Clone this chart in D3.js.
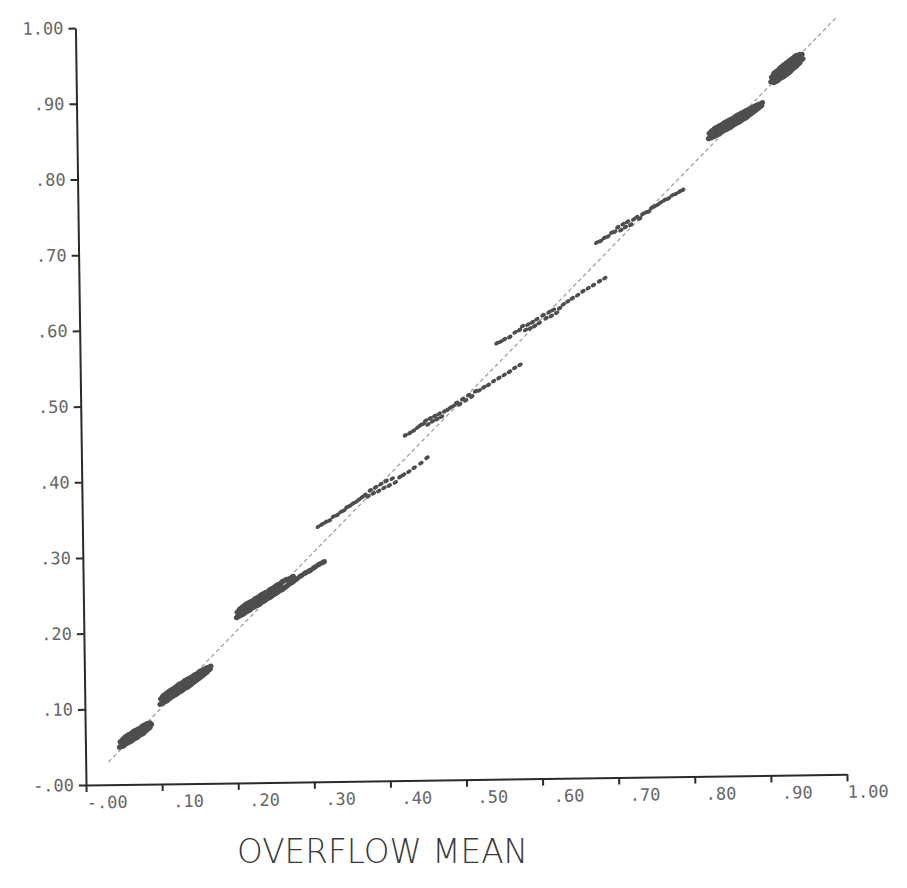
<!DOCTYPE html>
<html>
<head>
<meta charset="utf-8">
<script src="https://cdn.jsdelivr.net/npm/d3@7"></script>
<style>
    html, body { margin: 0; padding: 0; background: #fff; }
    svg { display: block; }
</style>
</head>
<body>
<div id="chart"></div>
<script>
"use strict";

// ------------------------- Data -------------------------

const tickValues = [0, 0.1, 0.2, 0.3, 0.4, 0.5, 0.6, 0.7, 0.8, 0.9, 1.0];
const tickLabels = ['-.00', '.10', '.20', '.30', '.40', '.50', '.60', '.70', '.80', '.90', '1.00'];
const xTitle = 'OVERFLOW MEAN';

const diagonal = [[0.03, 0.03], [1.0, 1.0]];

const clusterA = [[.046,.050],[.047,.057],[.050,.051],[.050,.060],[.053,.054],[.053,.063],
    [.056,.055],[.056,.065],[.057,.060],[.060,.057],[.060,.067],[.061,.062],[.064,.060],[.064,.070],
    [.065,.065],[.068,.062],[.068,.072],[.069,.067],[.072,.065],[.072,.074],[.073,.070],[.076,.067],
    [.076,.077],[.077,.072],[.080,.071],[.080,.079],[.081,.075],[.084,.074],[.084,.080],[.086,.078]];
const clusterB = [[.100,.106],[.101,.113],[.104,.108],[.104,.117],[.108,.110],[.108,.120],[.109,.115],
    [.112,.113],[.112,.123],[.113,.118],[.116,.116],[.116,.125],[.117,.121],[.120,.118],[.120,.128],
    [.121,.123],[.124,.121],[.124,.131],[.125,.126],[.128,.123],[.128,.133],[.129,.128],[.132,.126],
    [.132,.136],[.133,.131],[.136,.128],[.136,.138],[.137,.133],[.140,.131],[.140,.140],[.141,.136],
    [.144,.134],[.144,.143],[.145,.139],[.148,.137],[.148,.145],[.149,.141],[.152,.140],[.152,.148],
    [.153,.144],[.156,.143],[.156,.150],[.160,.146],[.160,.152],[.164,.150],[.165,.154]];
const clusterC = [[.202,.219],[.203,.226],[.206,.221],[.206,.230],[.210,.223],[.210,.233],[.211,.228],
    [.214,.226],[.214,.236],[.215,.231],[.218,.228],[.218,.238],[.219,.233],[.222,.231],[.222,.240],
    [.223,.236],[.226,.233],[.226,.243],[.227,.238],[.230,.235],[.230,.245],[.231,.240],[.234,.238],
    [.234,.248],[.235,.243],[.238,.240],[.238,.250],[.239,.245],[.242,.243],[.242,.252],[.243,.248],
    [.246,.245],[.246,.255],[.247,.250],[.250,.248],[.250,.257],[.251,.253],[.254,.250],[.254,.260],
    [.255,.255],[.258,.253],[.258,.262],[.259,.258],[.262,.255],[.262,.265],[.266,.258],[.266,.267],
    [.270,.261],[.270,.268],[.275,.264],[.275,.271],[.280,.268],[.286,.272],[.292,.276],[.298,.279],
    [.304,.283],[.310,.287],[.316,.290]];
const clusterD = [[.310,.337],[.315,.340],[.320,.343],[.325,.345],[.330,.350],[.335,.352],[.340,.356],
    [.344,.358],[.348,.362],[.352,.364],[.356,.367],[.360,.369],[.364,.372],[.368,.375],[.372,.378],
    [.376,.376],[.379,.384],[.383,.380],[.386,.388],[.390,.383],[.393,.392],[.397,.387],[.400,.396],
    [.404,.390],[.408,.399],[.412,.394],[.418,.401],[.423,.404],[.430,.408],[.437,.413],[.446,.419],
    [.454,.426]];
const clusterE = [[.426,.456],[.432,.459],[.437,.462],[.442,.466],[.446,.469],[.450,.471],[.453,.475],
    [.456,.470],[.459,.478],[.462,.474],[.465,.481],[.468,.477],[.471,.484],[.474,.480],[.478,.487],
    [.482,.489],[.486,.492],[.490,.494],[.494,.498],[.498,.496],[.502,.503],[.506,.501],[.510,.508],
    [.514,.506],[.519,.513],[.524,.514],[.530,.518],[.536,.521],[.543,.526],[.550,.530],[.557,.534],
    [.564,.538],[.571,.543],[.578,.547]];
const clusterF = [[.548,.576],[.553,.578],[.558,.581],[.565,.584],[.572,.590],[.578,.593],[.582,.598],
    [.586,.593],[.589,.600],[.592,.595],[.595,.603],[.598,.598],[.601,.607],[.604,.602],[.609,.612],
    [.613,.608],[.617,.616],[.620,.611],[.623,.619],[.627,.615],[.631,.621],[.636,.626],[.642,.630],
    [.648,.634],[.655,.638],[.662,.643],[.669,.647],[.676,.651],[.684,.656],[.691,.660]];
const clusterG = [[.681,.707],[.686,.709],[.691,.713],[.696,.715],[.701,.720],[.705,.721],[.709,.727],
    [.713,.723],[.716,.731],[.719,.727],[.722,.734],[.726,.730],[.730,.737],[.734,.740],[.738,.738],
    [.742,.744],[.746,.746],[.750,.747],[.754,.752],[.758,.754],[.762,.756],[.766,.759],[.771,.762],
    [.776,.764],[.781,.768],[.786,.770],[.791,.773],[.795,.775]];
const clusterH = [[.831,.843],[.832,.850],[.835,.844],[.835,.853],[.839,.846],[.839,.856],[.840,.851],
    [.843,.848],[.843,.858],[.844,.853],[.847,.851],[.847,.860],[.848,.856],[.851,.853],[.851,.863],
    [.852,.858],[.855,.855],[.855,.865],[.856,.860],[.859,.857],[.859,.867],[.860,.862],[.863,.860],
    [.863,.869],[.864,.865],[.867,.862],[.867,.872],[.868,.867],[.871,.864],[.871,.874],[.872,.869],
    [.875,.867],[.875,.876],[.876,.872],[.879,.869],[.879,.878],[.880,.874],[.883,.872],[.883,.880],
    [.884,.876],[.887,.875],[.887,.882],[.891,.878],[.891,.884],[.895,.881],[.895,.886],[.899,.884],
    [.900,.888]];
const clusterI = [[.914,.917],[.915,.923],[.918,.916],[.918,.928],[.919,.922],[.922,.918],[.922,.931],
    [.923,.925],[.926,.921],[.926,.935],[.927,.928],[.930,.923],[.930,.938],[.931,.931],[.934,.926],
    [.934,.941],[.935,.934],[.938,.929],[.938,.944],[.939,.937],[.942,.933],[.942,.947],[.943,.940],
    [.946,.936],[.946,.950],[.947,.943],[.950,.940],[.950,.951],[.951,.946],[.954,.945],[.953,.951]];

const clusters = [clusterA, clusterB, clusterC, clusterD, clusterE, clusterF, clusterG, clusterH, clusterI];


// ------------------------- Layout -------------------------

const width = 907;
const height = 888;
const origin = { x: 86, y: 785 };
const plotWidth = 761;
const plotHeight = 757;
const tilt = -0.8;   // the scanned page sits slightly askew

// the middle runs are printed as loose dashes, the outer ones as solid blobs
const sparseRuns = [clusterD, clusterE, clusterF, clusterG];

const x = d3.scaleLinear().domain([0, 1]).range([0, plotWidth]);
const y = d3.scaleLinear().domain([0, 1]).range([0, -plotHeight]);

const svg = d3.select('#chart')
    .append('svg')
    .attr('width', width)
    .attr('height', height);

svg.append('rect')
    .attr('width', width)
    .attr('height', height)
    .attr('fill', '#fff');

const plot = svg.append('g')
    .attr('transform', `translate(${origin.x},${origin.y}) rotate(${tilt})`);

renderDiagonal(plot);
renderClusters(plot);
renderAxes(plot);

svg.append('text')
    .attr('x', 237)
    .attr('y', 863)
    .attr('textLength', 291)
    .attr('lengthAdjust', 'spacingAndGlyphs')
    .style('font-family', '"DejaVu Sans", sans-serif')
    .style('font-weight', 200)
    .style('font-size', '34px')
    .attr('fill', '#3a3a3a')
    .text(xTitle);


// ------------------------- Rendering Helpers -------------------------

function renderDiagonal(container) {
    container.append('path')
        .datum(diagonal)
        .attr('d', d3.line().x(d => x(d[0])).y(d => y(d[1])))
        .attr('fill', 'none')
        .attr('stroke', '#a0a0a0')
        .attr('stroke-width', 1.3)
        .attr('stroke-dasharray', '4,3');
}

function renderClusters(container) {
    const groups = container.selectAll('.cluster')
        .data(clusters)
        .enter()
        .append('g')
        .classed('cluster', true)
        .classed('sparse', d => sparseRuns.includes(d));

    groups.each(function (run) {
        const sparse = sparseRuns.includes(run);
        d3.select(this).selectAll('ellipse')
            .data(run)
            .enter()
            .append('ellipse')
            .attr('transform', d => `translate(${x(d[0])},${y(d[1])}) rotate(-31)`)
            .attr('rx', sparse ? 2.9 : 3.8)
            .attr('ry', sparse ? 2.0 : 2.7)
            .attr('fill', '#4e4e4e');
    });
}

function renderAxes(container) {
    const labelOf = d => tickLabels[tickValues.indexOf(d)];

    const xAxis = container.append('g')
        .call(d3.axisBottom(x)
            .tickValues(tickValues)
            .tickFormat(labelOf)
            .tickSize(7)
            .tickSizeOuter(0));

    xAxis.selectAll('text')
        .attr('x', 41)
        .attr('y', 18)
        .attr('dy', '0.32em')
        .attr('text-anchor', 'end');

    const yAxis = container.append('g')
        .call(d3.axisLeft(y)
            .tickValues(tickValues)
            .tickFormat(labelOf)
            .tickSize(7)
            .tickSizeOuter(0)
            .tickPadding(5));

    [xAxis, yAxis].forEach(axis => {
        axis.select('.domain')
            .attr('stroke', '#2a2a2a')
            .attr('stroke-width', 2);
        axis.selectAll('.tick line')
            .attr('stroke', '#2a2a2a')
            .attr('stroke-width', 2);
        axis.selectAll('text')
            .attr('fill', '#666')
            .style('font-family', '"DejaVu Sans Mono", monospace')
            .style('font-size', '17px');
    });
}
</script>
</body>
</html>
